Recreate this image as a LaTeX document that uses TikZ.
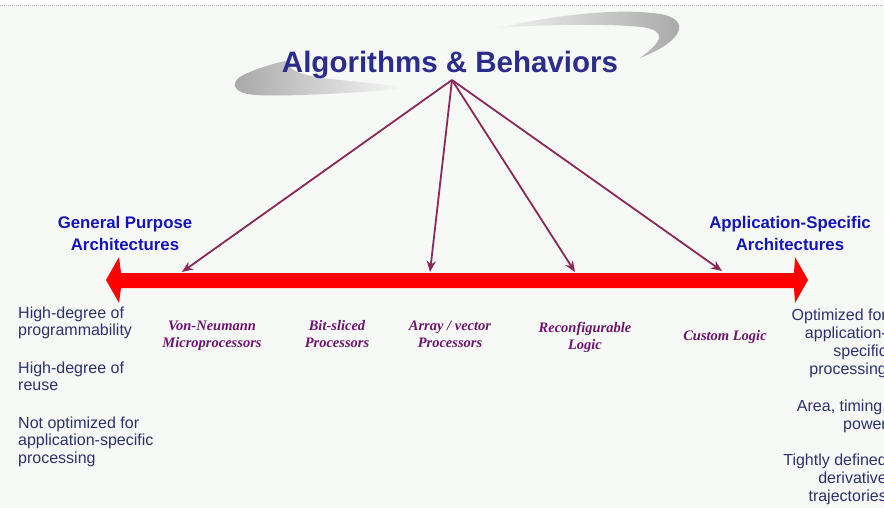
\documentclass[tikz,border=0pt]{standalone}
\usepackage{fontspec}
\setmainfont{Liberation Sans}
\newfontfamily\tnr{Liberation Serif}
\usetikzlibrary{arrows.meta}
\definecolor{bgc}{RGB}{246,249,246}
\definecolor{titleblue}{RGB}{44,44,140}
\definecolor{sideblue}{RGB}{20,20,190}
\definecolor{listnavy}{RGB}{48,48,110}
\definecolor{procpurple}{RGB}{110,20,110}
\definecolor{connc}{RGB}{140,40,90}
\definecolor{barred}{RGB}{255,0,0}
\begin{document}
\begin{tikzpicture}[x=1pt,y=-1pt,
  titlestyle/.style={font=\fontsize{29.5}{32}\selectfont\bfseries, text=titleblue, inner sep=0, anchor=base},
  side/.style={font=\fontsize{16.8}{22}\selectfont\bfseries, text=sideblue, align=center, inner sep=0, anchor=base},
  lstl/.style={font=\fontsize{16}{17.5}\selectfont, text=listnavy, align=left, inner sep=0, anchor=base west},
  lstr/.style={font=\fontsize{16}{18}\selectfont, text=listnavy, align=right, inner sep=0, anchor=base east},
  proc/.style={font=\tnr\fontsize{14.5}{17.5}\selectfont\bfseries\itshape, text=procpurple, align=center, inner sep=0, anchor=base},
  conn/.style={draw=connc, line width=1.8pt, -{Stealth[length=11pt,width=9pt]}}
]
\useasboundingbox (0,0) rectangle (884,508);
\clip (0,0) rectangle (884,508);
\fill[bgc] (0,0) rectangle (884,508);
\fill[white] (0,0) rectangle (884,5);
\draw[gray!60, line width=1pt, densely dotted] (0,5.5) -- (884,5.5);

% swooshes
\shade[left color=gray!10, right color=gray!70]
  (497,28) .. controls (560,14) and (620,8) .. (660,14)
  .. controls (690,19) and (686,40) .. (640,58)
  .. controls (662,42) and (668,31) .. (642,27)
  .. controls (600,23) and (540,25) .. (497,28) -- cycle;
\shade[left color=gray!70, right color=gray!3]
  (413,88) .. controls (370,92) and (290,97) .. (255,95)
  .. controls (230,93) and (228,80) .. (250,72)
  .. controls (262,67) and (275,63) .. (290,60)
  .. controls (285,70) and (300,76) .. (340,80)
  .. controls (370,83) and (395,86) .. (413,88) -- cycle;

\node[titlestyle] (title) at (450,73) {Algorithms \& Behaviors};
\coordinate (apex) at (452,80);

% red double arrow
\fill[barred] (106,280) -- (119,257) -- (121,273) -- (794,273) -- (795,257)
  -- (808,280) -- (795,303) -- (794,288) -- (121,288) -- (119,303) -- cycle;

\coordinate (t1) at (182,272);
\coordinate (t2) at (430,272);
\coordinate (t3) at (575,272);
\coordinate (t4) at (722,271);
\draw[conn] (apex) -- (t1);
\draw[conn] (apex) -- (t2);
\draw[conn] (apex) -- (t3);
\draw[conn] (apex) -- (t4);

% multi-line nodes: position = baseline of the last line
\node[side] (gp) at (125,251) {General Purpose\\Architectures};
\node[side] (as) at (790,251) {Application-Specific\\Architectures};

\node[lstl] (l1) at (18,335.5) {High-degree of\\programmability};
\node[lstl] (l2) at (18,390.5) {High-degree of\\reuse};
\node[lstl] (l3) at (18,463) {Not optimized for\\application-specific\\processing};

\node[lstr] (r1) at (887,374) {Optimized for\\application-\\specific\\processing};
\node[lstr] (r2) at (887,429) {Area, timing,\\power};
\node[lstr] (r3) at (887,501) {Tightly defined\\derivative\\trajectories};

\node[proc] (p1) at (212,347.5) {Von-Neumann\\Microprocessors};
\node[proc] (p2) at (337,347.5) {Bit-sliced\\Processors};
\node[proc] (p3) at (450,347.5) {Array / vector\\Processors};
\node[proc] (p4) at (585,349.5) {Reconfigurable\\Logic};
\node[proc] (p5) at (725,340) {Custom Logic};
\end{tikzpicture}
\end{document}
